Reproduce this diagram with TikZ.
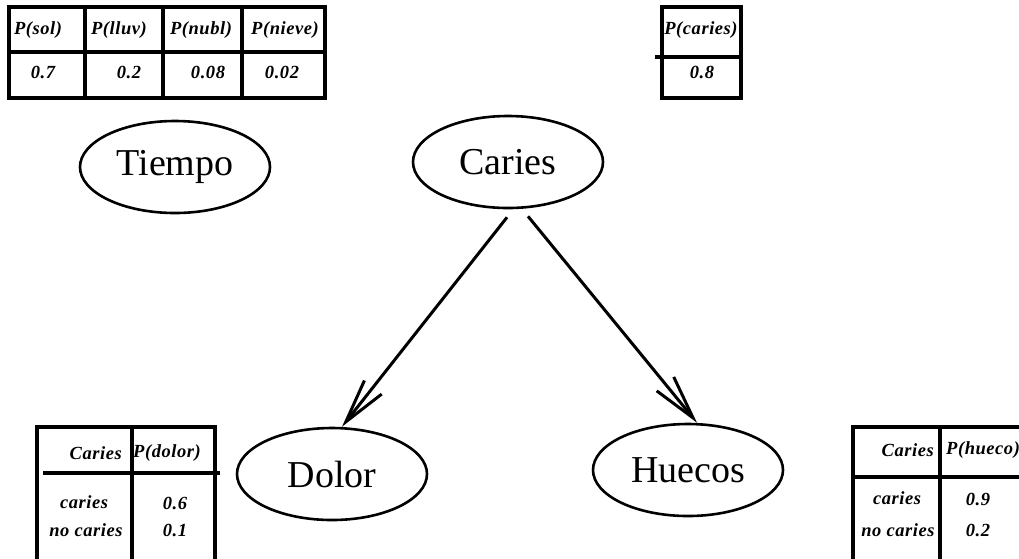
\documentclass[tikz,border=0pt]{standalone}
\usepackage{fontspec}
\setmainfont{Liberation Serif}
\usetikzlibrary{arrows.meta,shapes.geometric}

\begin{document}
\begin{tikzpicture}[x=1pt,y=-1pt,
  var/.style={ellipse,draw,line width=2.6pt,minimum width=190pt,minimum height=92pt,inner sep=0pt,font=\fontsize{38}{40}\selectfont},
  grid/.style={line width=3.5pt,line cap=rect},
  cell/.style={inner sep=0pt,font=\fontsize{18.5}{20}\selectfont\bfseries\itshape\addfontfeature{LetterSpace=3}},
  link/.style={line width=3pt,-{Straight Barb[length=44pt,width=22pt,line width=3pt]}}]
  \clip (0,0) rectangle (1019,558);
  \fill[white] (0,0) rectangle (1019,558);

  \node[var] (tiempo) at (175,167) {Tiempo};
  \node[var] (caries) at (508,162) {Caries};
  \node[var] (dolor) at (332,474) {Dolor};
  \node[var] (huecos) at (688,470) {Huecos};

  \draw[link] ([xshift=-1pt,yshift=-8pt]caries.south) -- ([xshift=10pt]dolor.north);
  \draw[link] ([xshift=20pt,yshift=-7pt]caries.south) -- ([xshift=9pt]huecos.north);

  % P(Tiempo)
  \draw[grid] (9,7) rectangle (325,98);
  \draw[grid] (9,52) -- (325,52);
  \foreach \x in {85,163,242} \draw[grid] (\x,7) -- (\x,98);
  \node[cell] (p-sol) at (38,30) {P(sol)};
  \node[cell] (p-lluv) at (119,30) {P(lluv)};
  \node[cell] (p-nubl) at (201,30) {P(nubl)};
  \node[cell] (p-nieve) at (285,30) {P(nieve)};
  \node[cell] (v-sol) at (43,72) {0.7};
  \node[cell] (v-lluv) at (129,72) {0.2};
  \node[cell] (v-nubl) at (208,72) {0.08};
  \node[cell] (v-nieve) at (282,72) {0.02};

  % P(Caries)
  \draw[grid] (662,7) rectangle (741,98);
  \draw[grid] (657,57) -- (741,57);
  \node[cell] (p-caries) at (701,30) {P(caries)};
  \node[cell] (v-caries) at (702,72) {0.8};

  % P(Dolor|Caries)
  \draw[grid] (37,570) -- (37,427) -- (215,427) -- (215,570);
  \draw[grid] (132,430) -- (132,570);
  \draw[grid] (45,473) -- (218,473);
  \node[cell,anchor=east] (d-head) at (122,453) {Caries};
  \node[cell] (d-prob) at (167,453) {P(dolor)};
  \node[cell] (d-si) at (84,502) {caries};
  \node[cell] (d-no) at (86,530) {no caries};
  \node[cell] (d-si-v) at (175,503) {0.6};
  \node[cell] (d-no-v) at (175,530) {0.1};

  % P(Huecos|Caries)
  \draw[grid] (853,570) -- (853,427) -- (1030,427);
  \draw[grid] (940,430) -- (940,570);
  \draw[grid] (857,477) -- (1030,477);
  \node[cell,anchor=east] (h-head) at (934,450) {Caries};
  \node[cell,anchor=west] (h-prob) at (946,450) {P(hueco)};
  \node[cell] (h-si) at (897,498) {caries};
  \node[cell] (h-no) at (898,530) {no caries};
  \node[cell] (h-si-v) at (978,499) {0.9};
  \node[cell] (h-no-v) at (978,530) {0.2};
\end{tikzpicture}
\end{document}
